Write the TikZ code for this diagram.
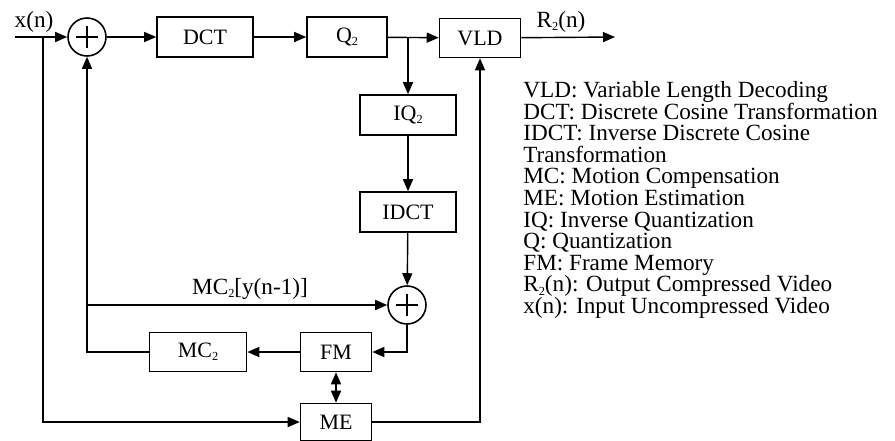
\documentclass[tikz,border=0pt]{standalone}
\usepackage{fontspec}
\setmainfont{Liberation Serif}
\usetikzlibrary{arrows.meta,positioning,calc}

\newcommand{\lowsub}[1]{\raisebox{-0.3ex}{\scriptsize #1}}

\begin{document}
\begin{tikzpicture}[
  x=0.02cm, y=-0.02cm,
  font=\fontsize{12.5}{13}\selectfont,
  block/.style={draw, line width=0.9pt, minimum height=0.8cm, inner sep=1pt},
  summer/.style={draw, circle, line width=0.9pt, minimum size=0.76cm, inner sep=0pt},
  fl/.style={-{Triangle[length=2.4mm,width=2mm]}, line width=0.8pt},
  ln/.style={line width=0.8pt},
  lab/.style={font=\fontsize{13.2}{13.2}\selectfont},
]
\useasboundingbox (0,0) rectangle (895,440);

% forward path
\coordinate (xin) at (15,37);
\coordinate (tap) at (43,37);
\node[summer] (sa) at (87,37) {};
\node[block, minimum width=1.92cm] (dct) at (205,37) {DCT};
\node[block, minimum width=1.6cm] (q) at (347,37) {Q\lowsub{2}};
\node[block, minimum width=1.62cm, minimum height=0.78cm] (vld) at (480,38) {VLD};
\coordinate (out) at (615,37);

% reconstruction loop
\node[block, minimum width=1.92cm] (iq) at (408,115) {IQ\lowsub{2}};
\node[block, minimum width=1.92cm] (idct) at (408,212) {IDCT};
\node[summer] (sb) at (407,305) {};
\node[block, minimum width=1.94cm, minimum height=0.78cm] (mc) at (198,352) {MC\lowsub{2}};
\node[block, minimum width=1.42cm, minimum height=0.78cm] (fm) at (336,352) {FM};
\node[block, minimum width=1.42cm, minimum height=0.74cm] (me) at (336,422) {ME};

% plus signs
\foreach \s in {sa,sb} {
  \draw[ln] ($(\s)+(-11,0)$) -- ($(\s)+(11,0)$);
  \draw[ln] ($(\s)+(0,-11)$) -- ($(\s)+(0,11)$);
}

\node[lab] (xlab) at (34,22) {x(n)};
\node[lab] (rlab) at (561,22) {R\lowsub{2}(n)};
\node[lab] (mclab) at (250,289) {MC\lowsub{2}[y(n-1)]};

\draw[fl] (xin) -- (sa);
\draw[fl] (tap) |- (me.west);
\draw[fl] (sa) -- (dct);
\draw[fl] (dct) -- (q);
\draw[fl] (q) -- (vld);
\draw[fl] (vld) -- (out);
\draw[fl] (q.east -| iq) -- (iq);
\draw[fl] (iq) -- (idct);
\draw[fl] (idct) -- (sb);
\draw[fl] (sb.south) |- (fm.east);
\draw[fl] (fm) -- (mc);
\draw[fl] (mc.west) -| (sa.south);
\draw[fl] (sa |- sb) -- (sb.west);
\draw[fl, {Triangle[length=2.4mm,width=2mm]}-{Triangle[length=2.4mm,width=2mm]}] (fm) -- (me);
\draw[fl] (me.east) -| (vld.south);

% legend
\node[anchor=north west, align=left, inner sep=0pt,
      font=\fontsize{13.2}{12.3}\selectfont] (legend) at (523,81) {%
  VLD: Variable Length Decoding\\
  DCT: Discrete Cosine Transformation\\
  IDCT: Inverse Discrete Cosine\\
  Transformation\\
  MC: Motion Compensation\\
  ME: Motion Estimation\\
  IQ: Inverse Quantization\\
  Q: Quantization\\
  FM: Frame Memory\\
  R\lowsub{2}(n): Output Compressed Video\\
  x(n): Input Uncompressed Video};
\end{tikzpicture}
\end{document}
